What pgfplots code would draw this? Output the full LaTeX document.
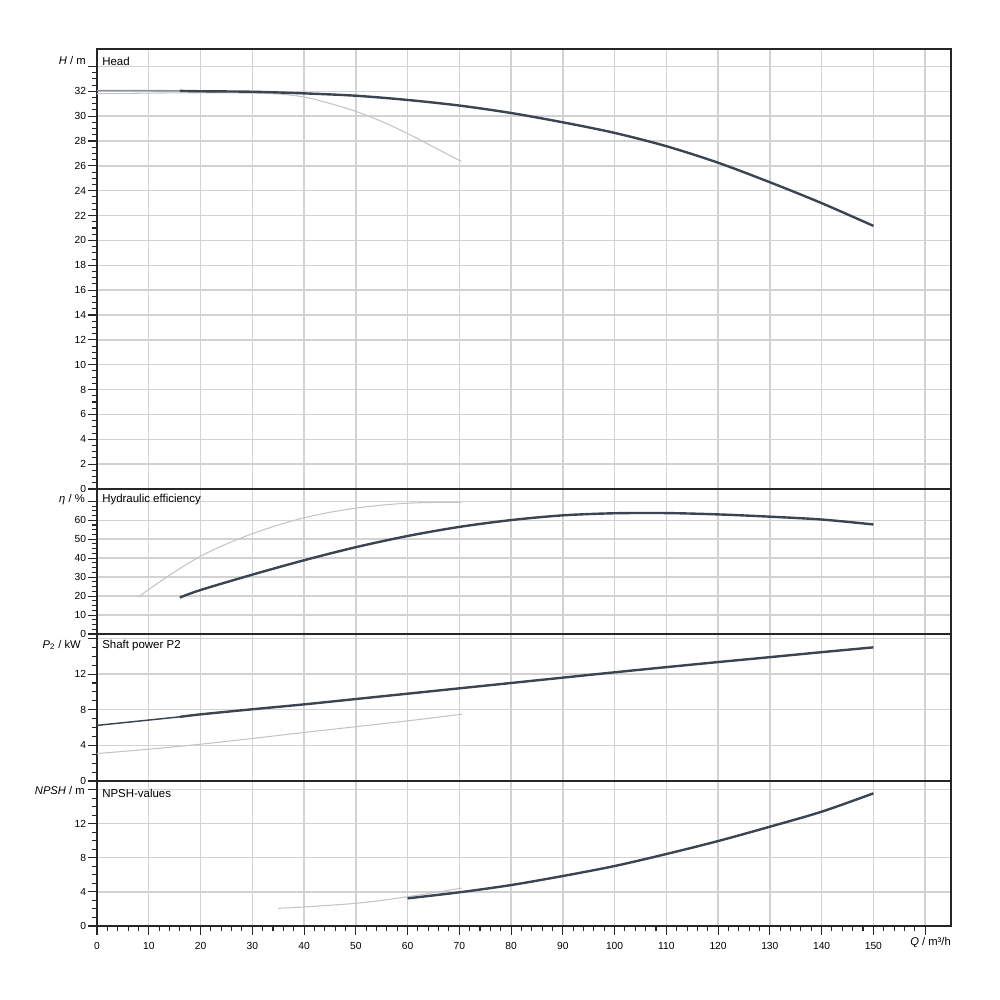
\documentclass[border=0pt]{standalone}
\usepackage{pgfplots}
\pgfplotsset{compat=1.18}
\usepackage{fontspec}
\setmainfont{Liberation Sans}
\definecolor{curve}{HTML}{3B4451}
\definecolor{lightc}{HTML}{C4C4C4}
\definecolor{gridc}{HTML}{D2D2D2}
\definecolor{earlyc}{HTML}{8A9098}
\pgfplotsset{
  panel/.style={
    scale only axis, width=640.5pt,
    xmin=0, xmax=165,
    xtick={0,10,...,160},
    grid=major,
    major grid style={draw=gridc, line width=1.1pt},
    axis line style={draw=black!85, line width=1.1pt},
    tick align=outside,
    ytick pos=left,
    xtick pos=bottom,
    major tick length=6.5pt,
    minor tick length=4pt,
    tick style={draw=black!85, line width=0.8pt},
    ticklabel style={font=\fontsize{7.7}{8}\selectfont},
    yticklabel style={inner sep=1.5pt},
    /pgf/number format/assume math mode=true,
    clip mode=individual,
    anchor=south west,
  },
  upper/.style={xticklabels={}, x tick style={draw=none}, minor x tick num=0},
  dark/.style={draw=curve, line width=1.8pt, smooth, no markers},
  light/.style={draw=lightc, line width=0.8pt, smooth, no markers},
}
\tikzset{
  lab/.style={anchor=west, inner sep=0pt, font=\fontsize{8.6}{9}\selectfont},
  ylab/.style={anchor=east, inner sep=0pt, font=\fontsize{8.4}{9}\selectfont},
}
\begin{document}
\begin{tikzpicture}
\path[use as bounding box] (0,0) rectangle (750pt,750pt);
% ---------------- Head
\begin{axis}[panel, upper, at={(72.75pt,383.25pt)}, height=330pt,
  ymin=0, ymax=35.4, ytick={0,2,...,34},
  yticklabels={0,2,4,6,8,10,12,14,16,18,20,22,24,26,28,30,32,{}},
  minor y tick num=3]
\addplot[light] coordinates {(0,31.8) (10,31.85) (20,31.88) (30,31.85) (35,31.78) (40,31.54) (45,31.02) (50,30.38) (55,29.57) (60,28.6) (65,27.52) (70.4,26.35)};
\addplot[draw=earlyc, line width=1.2pt, no markers] coordinates {(0,32.05) (8,32.05) (16,32.03)};
\addplot[dark] coordinates {(16,32.03) (20,32.0) (30,31.96) (40,31.83) (50,31.64) (60,31.3) (70,30.85) (80,30.25) (90,29.5) (100,28.65) (110,27.58) (120,26.25) (130,24.68) (140,23.0) (150,21.17)};
\node[lab] at ([xshift=3.75pt,yshift=-9.5pt]rel axis cs:0,1) {Head};
\node[ylab] at ([xshift=-8.25pt,yshift=-8.8pt]rel axis cs:0,1) {\textit{H} / m};
\end{axis}
% ---------------- Efficiency
\begin{axis}[panel, upper, at={(72.75pt,274.5pt)}, height=108.75pt,
  ymin=0, ymax=76.5, ytick={0,10,...,70},
  yticklabels={0,10,20,30,40,50,60,{}},
  minor y tick num=3]
\addplot[light] coordinates {(8,19.4) (10,23.5) (15,32.8) (20,41.0) (25,47.5) (30,52.9) (35,57.5) (40,61.3) (45,64.2) (50,66.4) (55,68.0) (60,69.0) (65,69.4) (70.4,69.4)};
\addplot[dark] coordinates {(16,19.25) (20,23.2) (30,31.3) (40,38.9) (50,45.8) (60,51.7) (70,56.5) (80,60.1) (90,62.6) (100,63.7) (110,63.8) (120,63.1) (130,61.9) (140,60.4) (150,57.8)};
\node[lab] at ([xshift=3.75pt,yshift=-8.25pt]rel axis cs:0,1) {Hydraulic efficiency};
\node[ylab] at ([xshift=-9pt,yshift=-8.25pt]rel axis cs:0,1) {\textit{η} / \%};
\end{axis}
% ---------------- Power
\begin{axis}[panel, upper, at={(72.75pt,164.25pt)}, height=110.25pt,
  ymin=0, ymax=16.5, ytick={0,4,...,16},
  yticklabels={0,4,8,12,{}},
  minor y tick num=3]
\addplot[light] coordinates {(0,3.08) (10,3.57) (20,4.13) (30,4.77) (40,5.45) (47,5.9) (60,6.75) (70.5,7.5)};
\addplot[draw=curve, line width=1.1pt, no markers] coordinates {(0,6.24) (10,6.84) (16,7.2)};
\addplot[dark] coordinates {(16,7.2) (20,7.48) (30,8.05) (40,8.6) (50,9.2) (60,9.8) (70,10.4) (80,11.0) (90,11.6) (100,12.2) (110,12.78) (120,13.35) (130,13.9) (140,14.46) (150,15.0)};
\node[lab] at ([xshift=3.75pt,yshift=-9pt]rel axis cs:0,1) {Shaft power P2};
\node[ylab] at ([xshift=-12pt,yshift=-8.25pt]rel axis cs:0,1) {\textit{P}\textsubscript{2} / kW};
\end{axis}
% ---------------- NPSH
\begin{axis}[panel, at={(72.75pt,55.5pt)}, height=108.75pt,
  ymin=0, ymax=17, ytick={0,4,...,16},
  yticklabels={0,4,8,12,{}},
  minor y tick num=3, minor x tick num=4,
  xticklabels={0,10,20,30,40,50,60,70,80,90,100,110,120,130,140,150,{}},
  xticklabel style={yshift=-2pt}]
\addplot[light] coordinates {(35,2.07) (40,2.23) (45,2.43) (50,2.66) (55,3.0) (60,3.44) (65,3.9) (70.5,4.45)};
\addplot[dark] coordinates {(60,3.24) (70,3.95) (80,4.8) (90,5.86) (100,7.03) (110,8.44) (120,9.96) (130,11.64) (140,13.4) (150,15.55)};
\node[lab] at ([xshift=3.75pt,yshift=-9pt]rel axis cs:0,1) {NPSH-values};
\node[ylab] at ([xshift=-9pt,yshift=-7.3pt]rel axis cs:0,1) {\textit{NPSH} / m};
\node[anchor=east, inner sep=0pt, font=\fontsize{8.4}{9}\selectfont] at ([yshift=-12.75pt]rel axis cs:1,0) {\textit{Q} / m³/h};
\end{axis}
\end{tikzpicture}
\end{document}
